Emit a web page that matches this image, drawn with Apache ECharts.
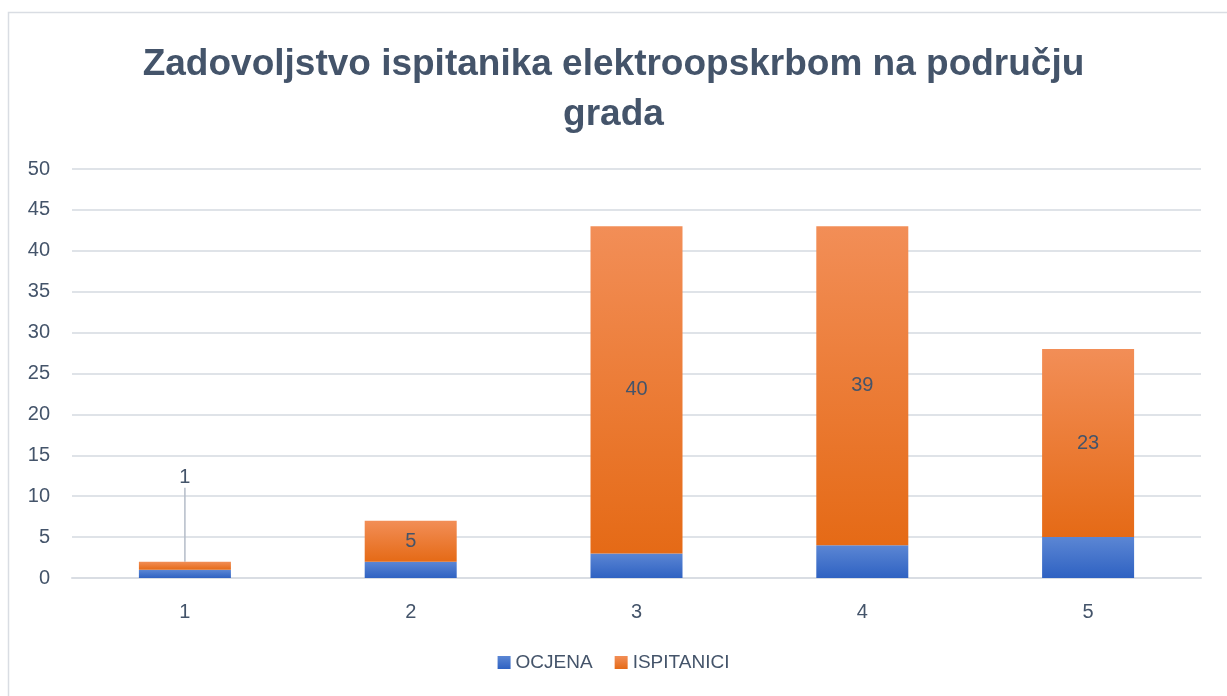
<!DOCTYPE html>
<html>
<head>
<meta charset="utf-8">
<script src="https://cdn.jsdelivr.net/npm/echarts@6/dist/echarts.min.js"></script>
<style>
html, body { margin: 0; padding: 0; background: #fff; }
#mycharts { width: 1227px; height: 696px; }
</style>
</head>
<body>
<div id="mycharts"></div>
<script>
var categories = ['1', '2', '3', '4', '5'];
var ocjena = [1, 2, 3, 4, 5];
var ispitanici = [1, 5, 40, 39, 23];
var yTicks = { min: 0, max: 50, interval: 5 };

var textColor = '#44546A';
var fontName = '"Liberation Sans", Arial, sans-serif';

function grad(top, bottom) {
	return new echarts.graphic.LinearGradient(0, 0, 0, 1, [
		{ offset: 0, color: top },
		{ offset: 1, color: bottom }
	]);
}

// first bar is too thin, so its label goes above with a leader line
var ispData = ispitanici.map(function(v, i) {
	if (i == 0) {
		return { value: v, labelLine: { show: true, lineStyle: { color: '#B4BCC8', width: 1.5 } } };
	}
	return v;
});

var myChart = echarts.init(document.getElementById('mycharts'));
myChart.setOption({
	animation: false,
	textStyle: { fontFamily: fontName },
	title: {
		text: 'Zadovoljstvo ispitanika elektroopskrbom na području\ngrada',
		left: 'center',
		top: 35,
		textStyle: {
			fontFamily: fontName,
			fontSize: 37,
			fontWeight: 'bold',
			color: textColor,
			lineHeight: 50
		}
	},
	graphic: [{
		type: 'rect',
		shape: { x: 8.5, y: 12.5, width: 1240, height: 700 },
		style: { fill: null, stroke: '#D9DDE3', lineWidth: 1.5 },
		silent: true
	}],
	legend: {
		data: ['OCJENA', 'ISPITANICI'],
		bottom: 19,
		left: 'center',
		itemWidth: 13,
		itemHeight: 13,
		itemGap: 22,
		icon: 'rect',
		textStyle: { fontSize: 19, color: textColor, fontFamily: fontName }
	},
	grid: {
		left: 72,
		right: 26,
		top: 169,
		bottom: 118
	},
	xAxis: {
		type: 'category',
		data: categories,
		axisLine: { show: true, lineStyle: { color: '#D9DDE3', width: 2 } },
		axisTick: { show: false },
		axisLabel: { fontSize: 20, color: textColor, margin: 24 }
	},
	yAxis: {
		type: 'value',
		min: yTicks.min,
		max: yTicks.max,
		interval: yTicks.interval,
		axisLine: { show: false },
		axisTick: { show: false },
		axisLabel: { fontSize: 20, color: textColor, margin: 22 },
		splitLine: { lineStyle: { color: '#DFE3E8', width: 2 } }
	},
	series: [{
		name: 'OCJENA',
		type: 'bar',
		stack: 'total',
		barWidth: 92,
		itemStyle: { color: grad('#5B86D4', '#2F62C2') },
		data: ocjena
	}, {
		name: 'ISPITANICI',
		type: 'bar',
		stack: 'total',
		barWidth: 92,
		itemStyle: { color: grad('#F28E57', '#E56A16') },
		label: {
			show: true,
			position: 'inside',
			fontSize: 20,
			color: textColor,
			fontFamily: fontName
		},
		labelLayout: function(params) {
			if (params.dataIndex == 0) {
				return { dy: -88 };
			}
			return {};
		},
		data: ispData
	}]
});
</script>
</body>
</html>
